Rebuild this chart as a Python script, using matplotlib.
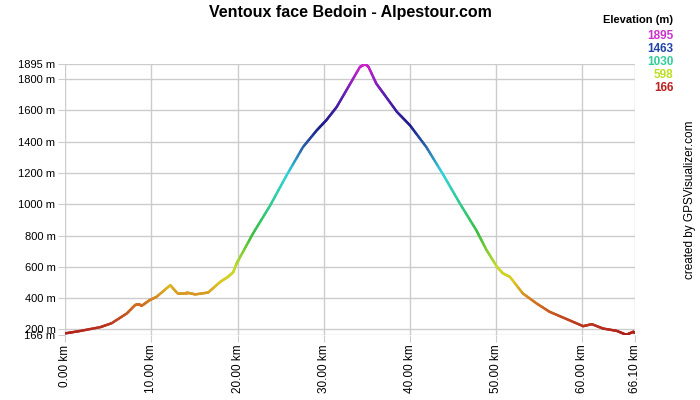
import matplotlib
matplotlib.use("Agg")
import matplotlib.pyplot as plt
import numpy as np
from matplotlib.collections import LineCollection
from matplotlib.colors import LinearSegmentedColormap

plt.rcParams['font.family'] = ['Liberation Sans', 'DejaVu Sans']

# profile: distance (km), elevation (m)
dist = [0.0, 1.7, 4.1, 5.4, 7.15, 8.1, 8.5, 8.9, 9.8, 10.6, 12.2, 12.95, 14.1, 15.1, 16.6,
        18.0, 18.9, 19.5, 19.9, 20.1, 21.8, 23.8, 25.7, 27.6, 29.2, 30.3, 31.5, 32.85, 34.2,
        34.8, 35.2, 36.1, 37.1, 38.5, 40.0, 41.9, 43.9, 45.8, 47.7, 48.9, 50.1, 50.8, 51.6,
        53.1, 54.7, 56.2, 58.2, 60.1, 61.1, 62.4, 64.0, 65.1, 65.9, 66.1]
elev = [175, 190, 215, 240, 302, 355, 362, 352, 387, 408, 483, 436, 436, 424, 436,
        504, 536, 566, 621, 642, 813, 993, 1185, 1365, 1472, 1536, 1620, 1748, 1876,
        1895, 1876, 1770, 1695, 1589, 1504, 1365, 1185, 1004, 834, 706, 600, 558, 536,
        430, 366, 313, 266, 221, 234, 206, 191, 166, 185, 180]

ymin, ymax = 166, 1895
xmax = 66.1
yticks = [166, 200, 400, 600, 800, 1000, 1200, 1400, 1600, 1800, 1895]
xticks = [0, 10, 20, 30, 40, 50, 60, 66.1]
legend_vals = [1895, 1463, 1030, 598, 166]
legend_cols = ['#cc33cc', '#2244aa', '#33cc99', '#bbdd22', '#bb2222']

stops = [(166, '#b01c1c'), (380, '#d47a22'), (500, '#dcc822'), (598, '#c4dc2c'),
         (800, '#3cbf3c'), (1030, '#30cc9c'), (1200, '#30d4dc'), (1350, '#2f6cb0'),
         (1500, '#1a1c8c'), (1700, '#6020b0'), (1895, '#cc22cc')]
cmap = LinearSegmentedColormap.from_list(
    'elev', [((v - ymin) / (ymax - ymin), c) for v, c in stops])

fig = plt.figure(figsize=(7, 4), dpi=100)
ax = fig.add_axes([0.093, 0.163, 0.814, 0.677])

# split each straight piece into short bits so the colour follows elevation
xs, ys = [], []
for i in range(len(dist) - 1):
    t = np.linspace(0, 1, 12, endpoint=False)
    xs.extend(dist[i] + t * (dist[i + 1] - dist[i]))
    ys.extend(elev[i] + t * (elev[i + 1] - elev[i]))
xs.append(dist[-1]); ys.append(elev[-1])
pts = np.array([xs, ys]).T.reshape(-1, 1, 2)
segs = np.concatenate([pts[:-1], pts[1:]], axis=1)
lc = LineCollection(segs, cmap=cmap, norm=plt.Normalize(ymin, ymax), linewidth=1.8,
                    capstyle='round', zorder=3)
lc.set_array((np.array(ys[:-1]) + np.array(ys[1:])) / 2)
ax.add_collection(lc)

ax.set_xlim(0, xmax)
ax.set_ylim(ymin, ymax)
ax.set_yticks(yticks)
ax.set_yticklabels([f"{v} m" for v in yticks], fontsize=8)
ax.set_xticks(xticks)
ax.set_xticklabels([f"{v:.2f} km" for v in xticks], rotation=90, fontsize=8.5)
ax.grid(True, color='#cccccc', linewidth=1)
ax.set_axisbelow(True)
for s in ax.spines.values():
    s.set_visible(False)
ax.tick_params(length=5, color='#cccccc', pad=2)

fig.text(0.5, 0.968, "Ventoux face Bedoin - Alpestour.com", ha='center', va='center',
         fontsize=11.5, fontweight='bold')
fig.text(0.962, 0.95, "Elevation (m)", ha='right', va='center', fontsize=8, fontweight='bold')
for i, (v, c) in enumerate(zip(legend_vals, legend_cols)):
    fig.text(0.962, 0.91 - i * 0.0328, str(v), ha='right', va='center', fontsize=8.5,
             fontweight='bold', color=c)
fig.text(0.985, 0.5, "created by GPSVisualizer.com", rotation=90, ha='center', va='center',
         fontsize=8.5)

fig.savefig("out.png", dpi=100)
